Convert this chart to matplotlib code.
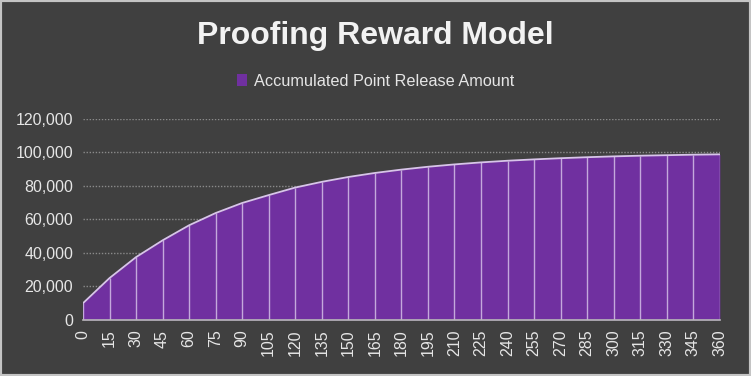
import matplotlib.pyplot as plt
import numpy as np

# Data
days = [0, 15, 30, 45, 60, 75, 90, 105, 120, 135, 150, 165, 180,
        195, 210, 225, 240, 255, 270, 285, 300, 315, 330, 345, 360]
points = [10000, 25000, 37500, 47500, 56500, 63800, 69800, 74500, 79000,
          82400, 85300, 87700, 89700, 91400, 92800, 94000, 95000, 95800,
          96500, 97100, 97600, 98000, 98300, 98600, 98800]
y_ticks = [0, 20000, 40000, 60000, 80000, 100000, 120000]

bg = '#404040'
purple = '#7030a0'
txt = '#e6e6e6'

plt.rcParams['font.family'] = ['Liberation Sans', 'DejaVu Sans']

fig = plt.figure(figsize=(7.51, 3.76), dpi=100, facecolor=bg)
ax = fig.add_axes([0.1105, 0.149, 0.848, 0.535])
ax.set_facecolor(bg)

# grid behind the area
for v in y_ticks[1:]:
    ax.axhline(v, color='#8a8a8a', linestyle=(0, (1, 1.2)), linewidth=1.0, zorder=1)

ax.fill_between(days, points, 0, color=purple, zorder=2, linewidth=0,
                label='Accumulated Point Release Amount')
ax.plot(days, points, color='#d8c4ea', linewidth=1.3, zorder=4)
ax.vlines(days, 0, points, color='#c4a8dc', linewidth=1.0, zorder=3)

ax.set_xlim(0, 360)
ax.set_ylim(0, 120000)
ax.set_xticks(days)
ax.set_xticklabels([str(d) for d in days], rotation=90, fontsize=11.5, color=txt)
ax.set_yticks(y_ticks)
ax.set_yticklabels(['{:,}'.format(v) for v in y_ticks], fontsize=11.5, color=txt)
ax.tick_params(length=0, pad=7)

for s in ['top', 'left', 'right']:
    ax.spines[s].set_visible(False)
ax.spines['bottom'].set_color('#b8b8b8')
ax.spines['bottom'].set_linewidth(1.2)
ax.spines['bottom'].set_zorder(5)

fig.text(0.5, 0.905, 'Proofing Reward Model', ha='center', va='center',
         fontsize=23, fontweight='bold', color='#f2f2f2')

leg = fig.legend(loc='center', bbox_to_anchor=(0.5, 0.784), frameon=False,
                 fontsize=11.7, handlelength=0.6, handleheight=0.75,
                 handletextpad=0.4, labelcolor=txt)

# light frame around the picture
fig.patches.append(plt.Rectangle((0, 0), 1, 1, transform=fig.transFigure,
                                 fill=False, edgecolor='#c4c4c4', linewidth=3))

fig.savefig('out.png', dpi=100, facecolor=bg)
